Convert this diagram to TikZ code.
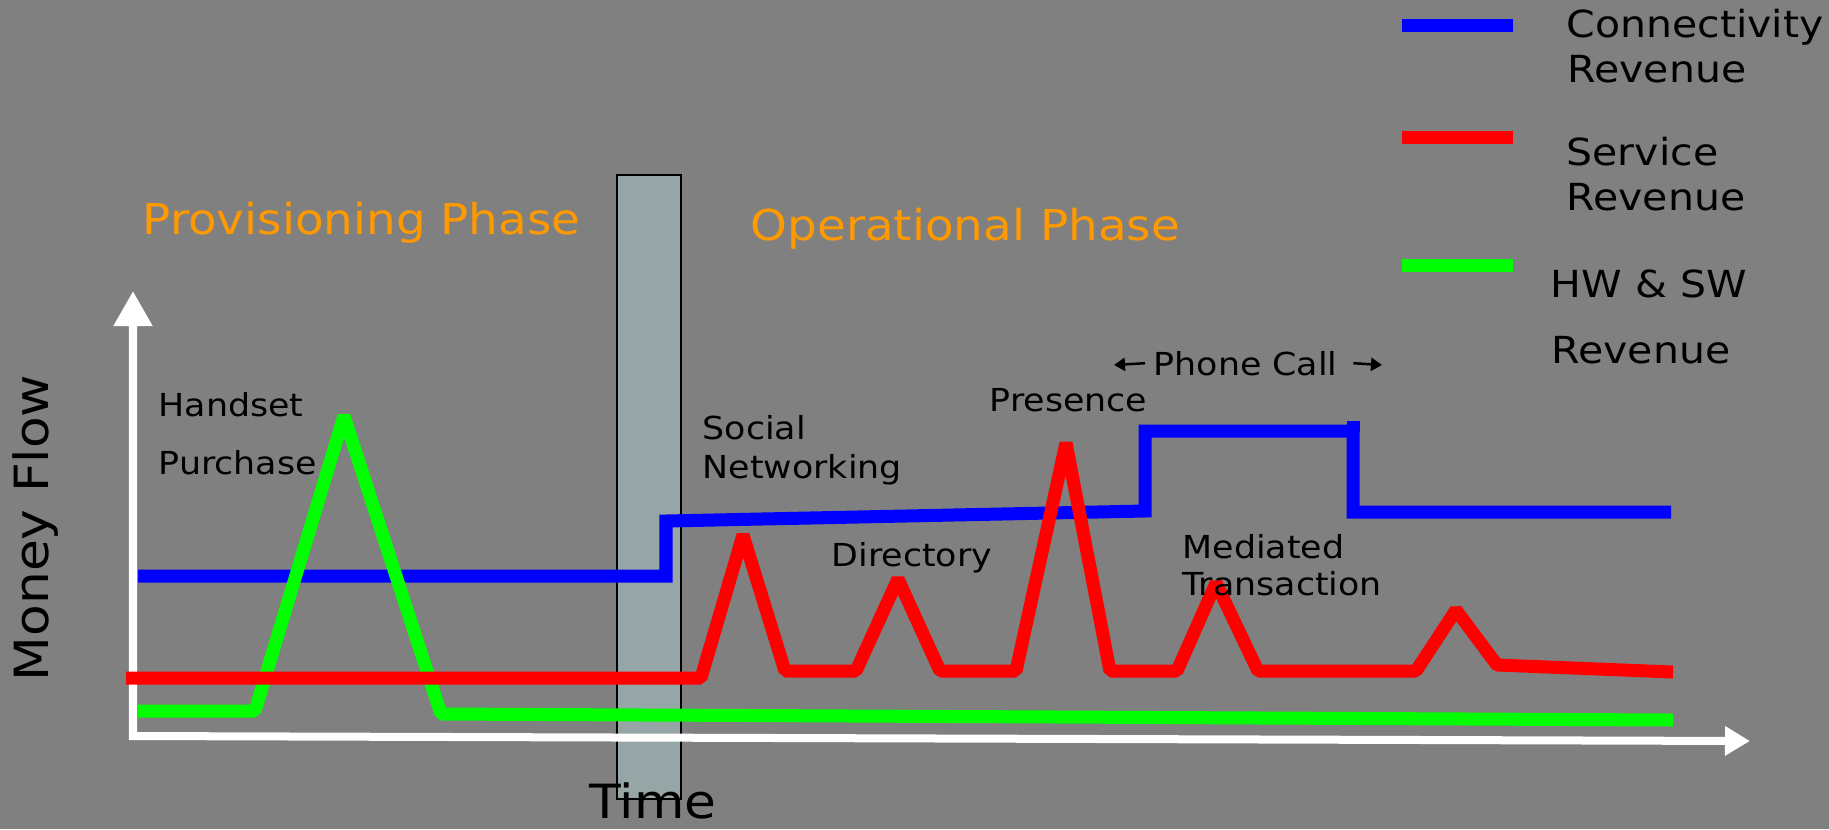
\documentclass[tikz,border=0pt]{standalone}
\usepackage{fontspec}
\setmainfont{DejaVu Sans}[FakeStretch=1.1]
\usetikzlibrary{arrows.meta}
\definecolor{bggray}{RGB}{128,128,128}
\definecolor{barfill}{RGB}{150,166,166}
\definecolor{phaseorange}{RGB}{255,153,0}
\newcommand{\fsz}[1]{\fontsize{#1}{#1}\selectfont}
\tikzset{
  rev/.style={line width=0.13cm},
  axis/.style={white,line width=0.08cm},
  callarrow/.style={black,line width=0.025cm,-{Triangle[length=0.11cm,width=0.13cm]}},
  lbl/.style={inner sep=0pt,anchor=base west,font=\fsz{9}},
  legtxt/.style={inner sep=0pt,anchor=base west,font=\fsz{10.6}},
  phase/.style={inner sep=0pt,anchor=base west,text=phaseorange,font=\fsz{12.1}},
  axlbl/.style={inner sep=0pt,font=\fsz{13.4}}
}
\begin{document}
\begin{tikzpicture}[x=0.01cm,y=-0.01cm]
	\useasboundingbox (0,0) rectangle (1829,829);
	\fill[bggray] (0,0) rectangle (1829,829);
	\draw[black,line width=0.02cm,fill=barfill] (617,175) rectangle (681,799);
	\coordinate (origin) at (133,736);
	\coordinate (ytip) at (133,291);
	\coordinate (xtip) at (1750,741);
	\draw[axis,{Triangle[length=0.35cm,width=0.37cm]}-{Triangle[length=0.25cm,width=0.28cm]}] (ytip) -- (origin) -- (xtip);
	\draw[rev,blue] (138,576) -- (666,576) -- (666,521) -- (1145,511) -- (1145,431) -- (1353,431) -- (1353,512) -- (1671,512);
	\draw[rev,blue] (1353,421) -- (1353,432);
	\draw[rev,green,line join=bevel] (138,711) -- (255,711) -- (344,416) -- (441,714) -- (1673,720);
	\draw[rev,red,line join=bevel] (126,678) -- (701,678) -- (743,535) -- (785,671) -- (856,671) -- (898,579) -- (940,671) -- (1016,671) -- (1066,443) -- (1110,671) -- (1177,671) -- (1216,583) -- (1258,671) -- (1416,671) -- (1456,610) -- (1497,665) -- (1673,672);
	\draw[rev,blue] (1402,25) -- (1513,25);
	\draw[rev,red] (1402,137) -- (1513,137);
	\draw[rev,green] (1402,265) -- (1513,265);
	\node[legtxt] (conn) at (1566,37) {Connectivity};
	\node[legtxt] (connrev) at (1567,82) {Revenue};
	\node[legtxt] (serv) at (1566,165) {Service};
	\node[legtxt] (servrev) at (1566,210) {Revenue};
	\node[legtxt] (hwsw) at (1550,297) {HW \& SW};
	\node[legtxt] (hwswrev) at (1551,363) {Revenue};
	\node[phase] (prov) at (142,234) {Provisioning Phase};
	\node[phase] (oper) at (750,240) {Operational Phase};
	\node[axlbl,rotate=90,anchor=base west] (money) at (48,682) {Money Flow};
	\node[axlbl,anchor=base] (time) at (653,818) {Time};
	\node[lbl] (handset) at (158,416) {Handset};
	\node[lbl] (purchase) at (158,474) {Purchase};
	\node[lbl] (social) at (702,439) {Social};
	\node[lbl] (networking) at (702,478) {Networking};
	\node[lbl] (directory) at (831,566) {Directory};
	\node[lbl] (presence) at (989,411) {Presence};
	\node[lbl,inner xsep=0.08cm] (call) at (1145,375) {Phone Call};
	\coordinate (callL) at (1114,365);
	\coordinate (callR) at (1382,365);
	\draw[callarrow] (call.west) -- (callL);
	\draw[callarrow] ([xshift=0.07cm]call.east) -- (callR);
	\node[lbl] (mediated) at (1182,558) {Mediated};
	\node[lbl] (transaction) at (1182,595) {Transaction};
\end{tikzpicture}
\end{document}
